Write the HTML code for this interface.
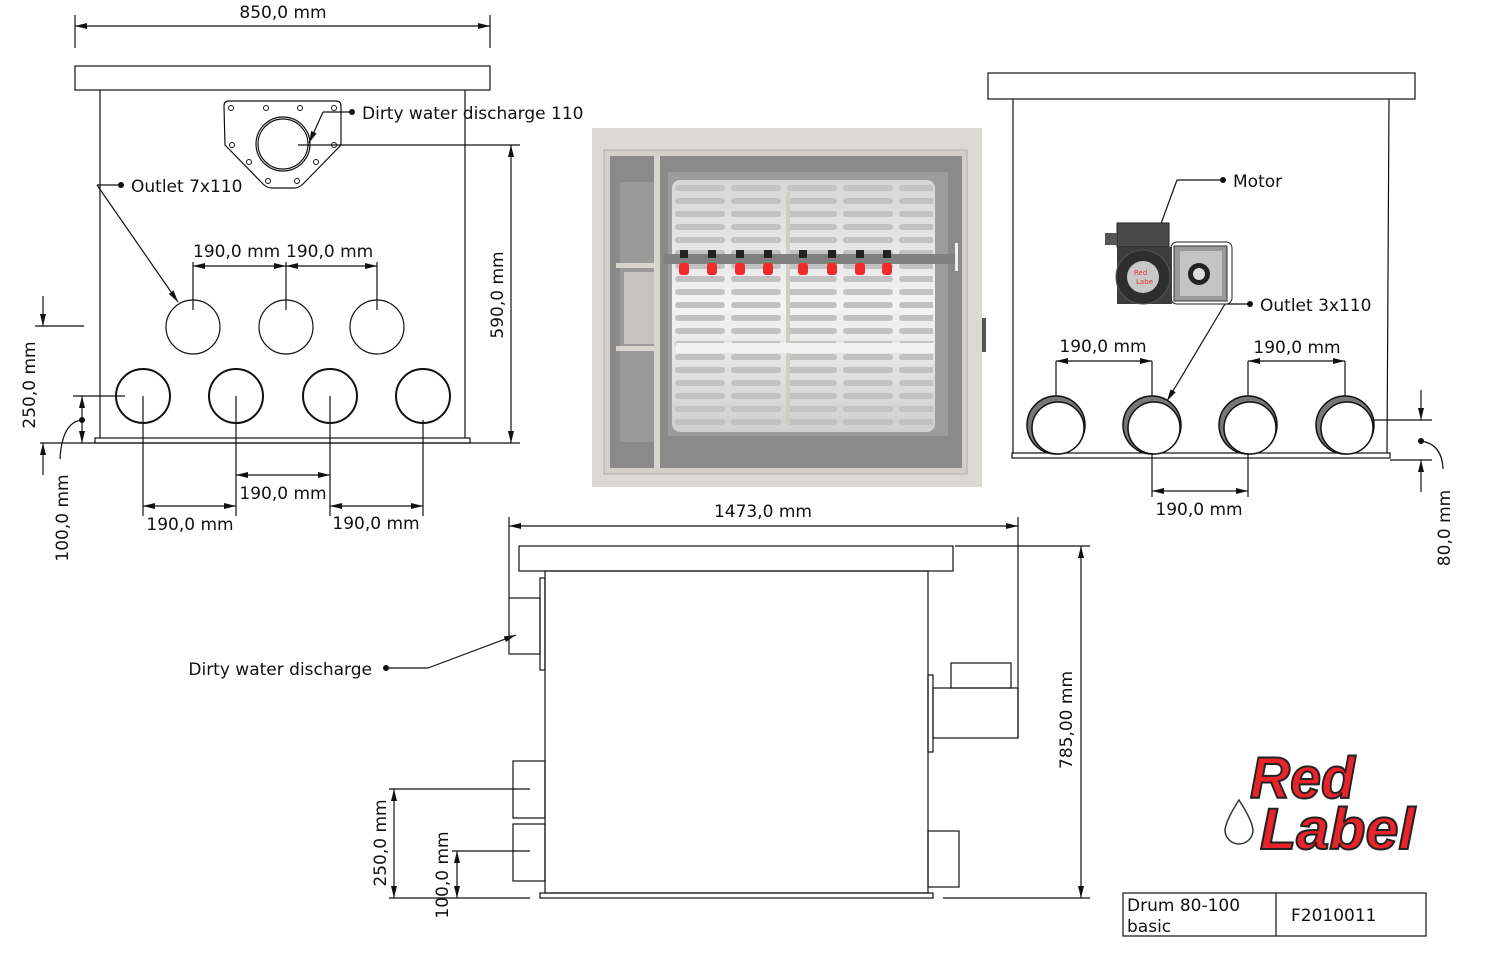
<!DOCTYPE html>
<html><head><meta charset="utf-8"><style>
html,body{margin:0;padding:0;background:#fff}
svg{display:block}
text{font-family:"DejaVu Sans","Liberation Sans",sans-serif;font-size:17px;fill:#111}
</style></head><body>
<svg width="1500" height="962" viewBox="0 0 1500 962" xmlns="http://www.w3.org/2000/svg">
<defs>
<marker id="a" viewBox="0 0 12 6" refX="12" refY="3" markerWidth="12" markerHeight="6" orient="auto-start-reverse" markerUnits="userSpaceOnUse"><path d="M0,0 L12,3 L0,6z" fill="#111"/></marker>
<pattern id="slots" x="0" y="0" width="56" height="13" patternUnits="userSpaceOnUse">
<rect x="3" y="3" width="50" height="6" rx="3" fill="#c2c2c2"/>
</pattern>
<linearGradient id="dg" x1="0" x2="0" y1="0" y2="1"><stop offset="0" stop-color="#d6d6d6"/><stop offset="0.5" stop-color="#f4f4f4"/><stop offset="1" stop-color="#cfcfcf"/></linearGradient>
</defs>
<g fill="none" stroke="#111" stroke-width="1.2">
<rect x="75" y="66" width="415" height="24"/>
<line x1="100" y1="90" x2="100" y2="438"/>
<line x1="465" y1="90" x2="465" y2="438"/>
<rect x="95" y="438" width="375" height="5"/>
<line x1="40" y1="443" x2="520" y2="443"/>
<line x1="75" y1="15" x2="75" y2="48"/><line x1="490" y1="15" x2="490" y2="48"/>
<line x1="75" y1="26" x2="490" y2="26" marker-start="url(#a)" marker-end="url(#a)"/>
<path d="M229,101 L336,101 Q341,101 341,106 L341,145 L303,184 Q299,188 294,188 L272,188 Q267,188 263,184 L225,145 L224,106 Q224,101 229,101z"/>
<circle cx="283" cy="144" r="27"/><circle cx="283" cy="144" r="25"/>
<g stroke-width="1"><circle cx="231" cy="108" r="2.5"/><circle cx="266" cy="108" r="2.5"/><circle cx="300" cy="108" r="2.5"/><circle cx="334" cy="108" r="2.5"/><circle cx="232" cy="145" r="2.5"/><circle cx="334" cy="145" r="2.5"/><circle cx="249" cy="162" r="2.5"/><circle cx="316" cy="162" r="2.5"/><circle cx="268" cy="181" r="2.5"/><circle cx="297" cy="181" r="2.5"/></g>
<line x1="298" y1="145" x2="520" y2="145"/>
<circle cx="193" cy="327" r="27"/><circle cx="286" cy="327" r="27"/><circle cx="377" cy="327" r="27"/>
<g stroke-width="2"><circle cx="143" cy="396" r="27"/><circle cx="236" cy="396" r="27"/><circle cx="330" cy="396" r="27"/><circle cx="423" cy="396" r="27"/></g>
<line x1="193" y1="262" x2="193" y2="310"/><line x1="286" y1="262" x2="286" y2="310"/><line x1="377" y1="262" x2="377" y2="310"/>
<line x1="193" y1="266" x2="286" y2="266" marker-start="url(#a)" marker-end="url(#a)"/>
<line x1="286" y1="266" x2="377" y2="266" marker-start="url(#a)" marker-end="url(#a)"/>
<line x1="143" y1="396" x2="143" y2="516"/><line x1="236" y1="396" x2="236" y2="516"/><line x1="330" y1="396" x2="330" y2="516"/><line x1="423" y1="420" x2="423" y2="516"/>
<line x1="236" y1="475" x2="330" y2="475" marker-start="url(#a)" marker-end="url(#a)"/>
<line x1="143" y1="506" x2="236" y2="506" marker-start="url(#a)" marker-end="url(#a)"/>
<line x1="330" y1="506" x2="423" y2="506" marker-start="url(#a)" marker-end="url(#a)"/>
<line x1="511" y1="145" x2="511" y2="443" marker-start="url(#a)" marker-end="url(#a)"/>
<line x1="35" y1="326" x2="84" y2="326"/>
<line x1="43" y1="296" x2="43" y2="326" marker-end="url(#a)"/>
<line x1="43" y1="475" x2="43" y2="443" marker-end="url(#a)"/>
<line x1="73" y1="396" x2="125" y2="396"/>
<line x1="82" y1="420" x2="82" y2="396" marker-end="url(#a)"/>
<line x1="82" y1="420" x2="82" y2="443" marker-end="url(#a)"/>
<path d="M82,420 Q62,422 60,459"/>
<line x1="97" y1="185" x2="121" y2="185"/>
<line x1="97" y1="185" x2="178" y2="302" marker-end="url(#a)"/>
<line x1="352" y1="112" x2="323" y2="112"/>
<line x1="323" y1="112" x2="309" y2="143" marker-end="url(#a)"/>
<rect x="988" y="73" width="427" height="26"/>
<line x1="1013" y1="99" x2="1013" y2="453"/>
<line x1="1389" y1="99" x2="1387" y2="453"/>
<rect x="1012" y="453" width="378" height="5"/>
<line x1="1056" y1="361" x2="1056" y2="412"/><line x1="1152" y1="361" x2="1152" y2="412"/><line x1="1248" y1="361" x2="1248" y2="412"/><line x1="1345" y1="361" x2="1345" y2="412"/>
<line x1="1056" y1="361" x2="1152" y2="361" marker-start="url(#a)" marker-end="url(#a)"/>
<line x1="1248" y1="361" x2="1345" y2="361" marker-start="url(#a)" marker-end="url(#a)"/>
<line x1="1152" y1="440" x2="1152" y2="497"/><line x1="1248" y1="440" x2="1248" y2="497"/>
<line x1="1152" y1="491" x2="1248" y2="491" marker-start="url(#a)" marker-end="url(#a)"/>
<line x1="1357" y1="420" x2="1432" y2="420"/><line x1="1390" y1="460" x2="1432" y2="460"/>
<line x1="1421" y1="390" x2="1421" y2="420" marker-end="url(#a)"/>
<line x1="1421" y1="492" x2="1421" y2="460" marker-end="url(#a)"/>
<path d="M1421,441 Q1442,444 1443,469"/>
<line x1="1223" y1="180" x2="1177" y2="180"/>
<line x1="1177" y1="180" x2="1155" y2="240" marker-end="url(#a)"/>
<line x1="1250" y1="304" x2="1225" y2="304"/>
<line x1="1225" y1="304" x2="1167" y2="401" marker-end="url(#a)"/>
<rect x="519" y="546" width="434" height="25"/>
<rect x="545" y="571" width="383" height="322"/>
<rect x="540" y="893" width="393" height="5"/>
<rect x="540" y="578" width="5" height="92"/>
<rect x="509" y="598" width="31" height="56"/>
<rect x="513" y="761" width="32" height="57"/>
<rect x="513" y="824" width="32" height="57"/>
<rect x="928" y="675" width="5" height="77"/>
<rect x="933" y="688" width="85" height="50"/>
<rect x="951" y="663" width="60" height="25"/>
<rect x="928" y="831" width="31" height="56"/>
<line x1="509" y1="517" x2="509" y2="598"/><line x1="1018" y1="517" x2="1018" y2="738"/>
<line x1="509" y1="526" x2="1018" y2="526" marker-start="url(#a)" marker-end="url(#a)"/>
<line x1="955" y1="546" x2="1090" y2="546"/><line x1="943" y1="898" x2="1090" y2="898"/>
<line x1="1081" y1="546" x2="1081" y2="898" marker-start="url(#a)" marker-end="url(#a)"/>
<line x1="389" y1="789" x2="530" y2="789"/><line x1="389" y1="898" x2="530" y2="898"/>
<line x1="394" y1="789" x2="394" y2="898" marker-start="url(#a)" marker-end="url(#a)"/>
<line x1="452" y1="851" x2="530" y2="851"/>
<line x1="457" y1="851" x2="457" y2="898" marker-start="url(#a)" marker-end="url(#a)"/>
<line x1="386" y1="668" x2="428" y2="668"/>
<line x1="428" y1="668" x2="516" y2="635" marker-end="url(#a)"/>
<rect x="1123" y="893" width="303" height="43"/>
<line x1="1276" y1="893" x2="1276" y2="936"/>
</g>
<g stroke="#111" stroke-width="1.5">
<g transform="translate(1056,425)"><circle r="29" fill="#777"/><circle cx="2" cy="3" r="26" fill="#fff"/></g>
<g transform="translate(1152,425)"><circle r="29" fill="#777"/><circle cx="2" cy="3" r="26" fill="#fff"/></g>
<g transform="translate(1248,425)"><circle r="29" fill="#777"/><circle cx="2" cy="3" r="26" fill="#fff"/></g>
<g transform="translate(1345,425)"><circle r="29" fill="#777"/><circle cx="2" cy="3" r="26" fill="#fff"/></g>
</g>
<g>
<rect x="1171" y="242" width="61" height="62" rx="6" fill="#fff" stroke="#222"/>
<rect x="1174" y="246" width="53" height="55" fill="#9a9a9a" stroke="#333"/>
<rect x="1180" y="251" width="42" height="45" fill="#c4c4c4"/>
<circle cx="1199" cy="274" r="11" fill="#222"/><circle cx="1199" cy="274" r="6" fill="#ddd"/>
<rect x="1117" y="223" width="52" height="24" fill="#4a4a4a" stroke="#222"/>
<rect x="1105" y="233" width="12" height="12" fill="#555"/>
<rect x="1117" y="247" width="55" height="57" fill="#3c3c3c"/>
<circle cx="1143" cy="277" r="27" fill="#2e2e2e" stroke="#555"/>
<circle cx="1143" cy="277" r="16" fill="#c8c8c8"/>
<text x="1134" y="275" style="font-size:7px;fill:#e33">Red</text><text x="1136" y="284" style="font-size:7px;fill:#e33">Labe</text>
</g>
<g>
<rect x="592" y="128" width="390" height="359" fill="#dcd9d3"/>
<rect x="604" y="150" width="363" height="324" fill="#d3d0ca" stroke="#b0ada7"/>
<rect x="610" y="156" width="44" height="312" fill="#8a8a8a"/>
<rect x="620" y="182" width="34" height="260" fill="#9a9a9a"/>
<rect x="654" y="156" width="6" height="312" fill="#d8d5cf"/>
<rect x="660" y="156" width="302" height="312" fill="#8a8a8a"/>
<rect x="668" y="172" width="280" height="264" fill="#9c9c9c"/>
<rect x="672" y="180" width="263" height="252" rx="8" fill="url(#dg)"/>
<rect x="675" y="180" width="258" height="252" fill="url(#slots)"/>
<rect x="786" y="192" width="4" height="232" fill="#d0cdc7"/>
<rect x="676" y="343" width="258" height="10" fill="#f2f2f2"/>
<rect x="616" y="263" width="44" height="5" fill="#d8d5cf"/>
<rect x="616" y="346" width="44" height="5" fill="#d8d5cf"/>
<rect x="624" y="272" width="30" height="72" fill="#c6c3be"/>
<rect x="663" y="254" width="293" height="10" rx="3" fill="#808080"/>
<rect x="955" y="243" width="3" height="28" fill="#eee"/>
<rect x="982" y="318" width="4" height="34" fill="#555"/>
<g fill="#ef2b2b">
<rect x="679" y="263" width="10" height="12" rx="3"/><rect x="707" y="263" width="10" height="12" rx="3"/><rect x="735" y="263" width="10" height="12" rx="3"/><rect x="763" y="263" width="10" height="12" rx="3"/><rect x="798" y="263" width="10" height="12" rx="3"/><rect x="827" y="263" width="10" height="12" rx="3"/><rect x="855" y="263" width="10" height="12" rx="3"/><rect x="882" y="263" width="10" height="12" rx="3"/>
</g>
<g fill="#222">
<rect x="680" y="250" width="8" height="8"/><rect x="708" y="250" width="8" height="8"/><rect x="736" y="250" width="8" height="8"/><rect x="764" y="250" width="8" height="8"/><rect x="799" y="250" width="8" height="8"/><rect x="828" y="250" width="8" height="8"/><rect x="856" y="250" width="8" height="8"/><rect x="883" y="250" width="8" height="8"/>
</g>
</g>
<g fill="#111"><circle cx="121" cy="185" r="3"/><circle cx="352" cy="112" r="3"/><circle cx="1223" cy="180" r="3"/><circle cx="1250" cy="304" r="3"/><circle cx="386" cy="668" r="3"/><circle cx="82" cy="420" r="3"/><circle cx="1421" cy="441" r="3"/></g>
<text x="283" y="18" text-anchor="middle">850,0 mm</text>
<text x="362" y="119">Dirty water discharge 110</text>
<text x="131" y="192">Outlet 7x110</text>
<text x="193" y="257">190,0 mm</text>
<text x="286" y="257">190,0 mm</text>
<text x="283" y="499" text-anchor="middle">190,0 mm</text>
<text x="190" y="530" text-anchor="middle">190,0 mm</text>
<text x="376" y="529" text-anchor="middle">190,0 mm</text>
<text transform="translate(503,295) rotate(-90)" text-anchor="middle">590,0 mm</text>
<text transform="translate(35,385) rotate(-90)" text-anchor="middle">250,0 mm</text>
<text transform="translate(68,518) rotate(-90)" text-anchor="middle">100,0 mm</text>
<text x="1233" y="187">Motor</text>
<text x="1260" y="311">Outlet 3x110</text>
<text x="1103" y="352" text-anchor="middle">190,0 mm</text>
<text x="1297" y="353" text-anchor="middle">190,0 mm</text>
<text x="1199" y="515" text-anchor="middle">190,0 mm</text>
<text transform="translate(1450,528) rotate(-90)" text-anchor="middle">80,0 mm</text>
<text x="763" y="517" text-anchor="middle">1473,0 mm</text>
<text x="372" y="675" text-anchor="end">Dirty water discharge</text>
<text transform="translate(1072,720) rotate(-90)" text-anchor="middle">785,00 mm</text>
<text transform="translate(386,843) rotate(-90)" text-anchor="middle">250,0 mm</text>
<text transform="translate(448,875) rotate(-90)" text-anchor="middle">100,0 mm</text>
<text x="1127" y="911">Drum 80-100</text>
<text x="1127" y="932">basic</text>
<text x="1291" y="921">F2010011</text>
<path d="M1239,800 Q1226,820 1225,830 A13,13 0 0 0 1253,830 Q1252,820 1239,800z" fill="#fff" stroke="#333" stroke-width="1.5"/>
<text x="1250" y="798" textLength="105" lengthAdjust="spacingAndGlyphs" style="font-family:'Liberation Sans',sans-serif;font-size:58px;font-weight:bold;font-style:italic;fill:#e8232a;stroke:#222;stroke-width:2">Red</text>
<text x="1260" y="849" textLength="155" lengthAdjust="spacingAndGlyphs" style="font-family:'Liberation Sans',sans-serif;font-size:58px;font-weight:bold;font-style:italic;fill:#e8232a;stroke:#222;stroke-width:2">Label</text>
</svg>
</body></html>
